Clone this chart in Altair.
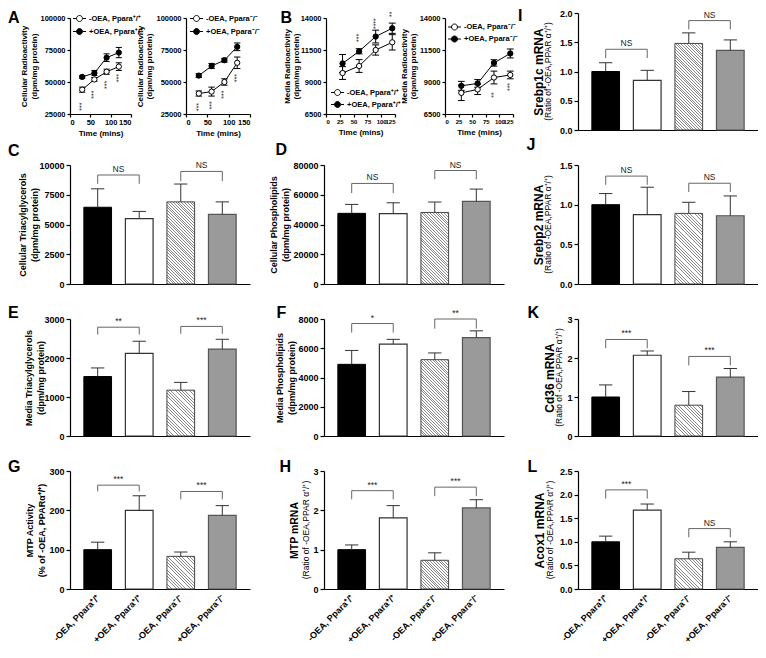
import json
import altair as alt
import pandas as pd

FONT = "Liberation Sans"
WT = "⁺/⁺"
KO = "⁻/⁻"
GROUPS = [f"-OEA, Ppara{WT}", f"+OEA, Ppara{WT}", f"-OEA, Ppara{KO}", f"+OEA, Ppara{KO}"]
POSITIONS = [1, 2, 3, 4]
PAIR_A = [1, 3]
PAIR_B = [2, 4]

# ---------------- time-course data (A, B) ----------------
TIMES = [30, 60, 90, 120]
A_WT_MINUS = [44000, 52000, 58000, 62000]
A_WT_MINUS_SE = [2000, 1500, 2000, 3000]
A_WT_PLUS = [54000, 57000, 69000, 73000]
A_WT_PLUS_SE = [1000, 2000, 3000, 4000]
A_WT_STAR_T = [30, 60, 90, 120]
A_WT_STAR_Y = [30700, 40200, 47800, 53100]
A_WT_STAR_TXT = ["***", "***", "***", "***"]

A_KO_MINUS = [41000, 42500, 50000, 65000]
A_KO_MINUS_SE = [2000, 3500, 2500, 4500]
A_KO_PLUS = [55000, 62500, 67000, 77500]
A_KO_PLUS_SE = [1500, 2000, 1500, 3000]
A_KO_STAR_T = [30, 60, 90, 120]
A_KO_STAR_Y = [30300, 31800, 40200, 53100]
A_KO_STAR_TXT = ["***", "***", "***", "***"]

B_WT_MINUS = [9700, 10250, 11500, 12100]
B_WT_MINUS_SE = [500, 500, 400, 600]
B_WT_PLUS = [10450, 11400, 12550, 13200]
B_WT_PLUS_SE = [700, 200, 500, 400]
B_WT_STAR_T = [60, 90, 120]
B_WT_STAR_Y = [12450, 13560, 14290]
B_WT_STAR_TXT = ["***", "****", "**"]

B_KO_MINUS = [8150, 8420, 9350, 9550]
B_KO_MINUS_SE = [600, 400, 500, 300]
B_KO_PLUS = [8700, 8890, 10490, 11230]
B_KO_PLUS_SE = [350, 300, 250, 350]
B_KO_STAR_T = [90, 120]
B_KO_STAR_Y = [7990, 8610]
B_KO_STAR_TXT = ["**", "***"]

# ---------------- bar data ----------------
I_MEAN = [1.00, 0.85, 1.48, 1.36]
I_SE = [0.15, 0.17, 0.18, 0.18]
I_BR_Y = [1.38, 1.87]
I_BR_LOW = [1.23, 1.72]
I_BR_TXT = ["NS", "NS"]

C_MEAN = [6450, 5500, 6900, 5850]
C_SE = [1550, 600, 1500, 1050]
C_BR_Y = [9160, 9460]
C_BR_LOW = [8420, 8640]
C_BR_TXT = ["NS", "NS"]

D_MEAN = [47500, 47300, 48100, 55500]
D_SE = [6000, 7300, 7000, 8300]
D_BR_Y = [67600, 76300]
D_BR_LOW = [61100, 70400]
D_BR_TXT = ["NS", "NS"]

J_MEAN = [1.00, 0.875, 0.89, 0.86]
J_SE = [0.14, 0.345, 0.14, 0.25]
J_BR_Y = [1.36, 1.27]
J_BR_LOW = [1.25, 1.16]
J_BR_TXT = ["NS", "NS"]

E_MEAN = [1525, 2120, 1175, 2230]
E_SE = [220, 310, 200, 250]
E_BR_Y = [2790, 2810]
E_BR_LOW = [2600, 2620]
E_BR_TXT = ["**", "***"]

F_MEAN = [4900, 6280, 5220, 6730]
F_SE = [950, 330, 460, 460]
F_BR_Y = [7690, 8000]
F_BR_LOW = [7070, 7340]
F_BR_TXT = ["*", "**"]

K_MEAN = [1.00, 2.07, 0.79, 1.51]
K_SE = [0.31, 0.11, 0.35, 0.22]
K_BR_Y = [2.475, 2.04]
K_BR_LOW = [2.25, 1.81]
K_BR_TXT = ["***", "***"]

G_MEAN = [100, 200, 83, 187]
G_SE = [19, 37, 11, 25]
G_BR_Y = [264, 248]
G_BR_LOW = [248, 228]
G_BR_TXT = ["***", "***"]

H_MEAN = [1.00, 1.81, 0.73, 2.06]
H_SE = [0.12, 0.31, 0.19, 0.21]
H_BR_Y = [2.50, 2.59]
H_BR_LOW = [2.28, 2.36]
H_BR_TXT = ["***", "***"]

L_MEAN = [1.00, 1.67, 0.64, 0.88]
L_SE = [0.12, 0.13, 0.14, 0.12]
L_BR_Y = [2.10, 1.28]
L_BR_LOW = [1.915, 1.095]
L_BR_TXT = ["***", "NS"]

SUBTITLE = "(Ratio of -OEA,PPAR α⁺/⁺)"

# ---------------- styling helpers ----------------
BAR_HALF = 1 / 3
CAP_HALF = 0.16
X_DOMAIN = [1 / 3, 14 / 3]
ONE = pd.DataFrame({"k": [0]})
SYM_PATH = "M-1.3,0H-0.6M0.6,0H1.3M0.6,0A0.6,0.6,0,1,1,-0.6,0A0.6,0.6,0,1,1,0.6,0Z"
BAR_LH = 12
TIME_LH = 9.5


def hatch_fill(wpx, hpx, period=2.8, line=0.9, color="#8a8a8a"):
    L = wpx + hpx
    k = L / (wpx ** 2 + hpx ** 2)
    stops = []
    n = int(L // period) + 1
    for i in range(n):
        a = i * period / L
        b = (i * period + period - line) / L
        c = (i + 1) * period / L
        for o, col in ((a, "#ffffff"), (b, "#ffffff"), (b, color), (c, color)):
            stops.append({"offset": round(min(o, 1.0), 5), "color": col})
    return {"gradient": "linear", "x1": 1, "y1": 0,
            "x2": round(1 - wpx * k, 5), "y2": round(hpx * k, 5), "stops": stops}


def letter_layer(txt, dx, dy):
    return alt.Chart(ONE).mark_text(
        text=txt, align="left", baseline="top", font=FONT, fontSize=16,
        fontWeight="bold", color="black"
    ).encode(x=alt.value(dx), y=alt.value(dy))


def bar_panel(mean, se, br_y, br_low, br_txt, ymax, yticks, fmt, title, title_x,
              w, h, letter, ldx, ldy, title_size=9, sub=None, sub_x=None, bottom=False):
    df = pd.DataFrame({"pos": POSITIONS, "mean": mean, "se": se, "grp": GROUPS})
    df["x0"] = df["pos"] - BAR_HALF
    df["x1"] = df["pos"] + BAR_HALF
    df["top"] = df["mean"] + df["se"]
    df["c0"] = df["pos"] - CAP_HALF
    df["c1"] = df["pos"] + CAP_HALF
    df["base"] = 0
    bdf = pd.DataFrame({"xa": PAIR_A, "xb": PAIR_B, "y": br_y, "yl": br_low, "txt": br_txt})
    bdf["xm"] = (bdf["xa"] + bdf["xb"]) / 2

    # multi-line titles: first line sits at titleX, so shift to centre the block
    if isinstance(title, list):
        title_x = title_x - BAR_LH * (len(title) - 1) / 2

    xs = alt.Scale(domain=X_DOMAIN, nice=False, zero=False)
    ys = alt.Scale(domain=[0, ymax], nice=False)
    if bottom:
        expr = json.dumps(GROUPS, ensure_ascii=False) + "[datum.value - 1]"
        xax = alt.Axis(values=POSITIONS, labelExpr=expr, labelAngle=315, labelAlign="right",
                       labelBaseline="middle", ticks=False, tickSize=0, labelPadding=7,
                       labelOverlap=False, labelBound=False, title=None, labelFontSize=9,
                       labelFontWeight="bold")
    else:
        xax = alt.Axis(values=POSITIONS, labels=False, ticks=False, title=None)
    yax = alt.Axis(values=yticks, format=fmt, title=title, titleX=title_x, titleY=h / 2,
                   titleAngle=270, titleAlign="center", titleBaseline="middle",
                   titleFontSize=title_size, titleLineHeight=BAR_LH, tickSize=4,
                   labelPadding=2, labelFontSize=9, labelFontWeight="bold",
                   labelOverlap=False)

    def X(f):
        return alt.X(f, type="quantitative", scale=xs, axis=xax)

    def Y(f):
        return alt.Y(f, type="quantitative", scale=ys, axis=yax)

    bar_w = w * (2 * BAR_HALF) / (X_DOMAIN[1] - X_DOMAIN[0])
    bar_h = mean[2] / ymax * h
    styles = [
        dict(fill="#000000", stroke="#000000", strokeWidth=1),
        dict(fill="#ffffff", stroke="#333333", strokeWidth=1.2),
        dict(fill=hatch_fill(bar_w, bar_h), stroke="#444444", strokeWidth=1),
        dict(fill="#9a9a9a", stroke="#555555", strokeWidth=1.2),
    ]
    base = alt.Chart(df)
    layers = []
    for i, st in enumerate(styles):
        layers.append(base.transform_filter(alt.datum.pos == i + 1).mark_bar(**st).encode(
            x=X("x0"), x2="x1", y=Y("mean"), y2="base"))
    layers.append(base.mark_rule(color="#333333", strokeWidth=1).encode(
        x=X("pos"), y=Y("mean"), y2="top"))
    layers.append(base.mark_rule(color="#333333", strokeWidth=1).encode(
        x=X("c0"), x2="c1", y=Y("top")))
    bb = alt.Chart(bdf)
    layers.append(bb.mark_rule(color="#666666", strokeWidth=1).encode(x=X("xa"), x2="xb", y=Y("y")))
    layers.append(bb.mark_rule(color="#666666", strokeWidth=1).encode(x=X("xa"), y=Y("yl"), y2="y"))
    layers.append(bb.mark_rule(color="#666666", strokeWidth=1).encode(x=X("xb"), y=Y("yl"), y2="y"))
    layers.append(bb.mark_text(baseline="bottom", dy=-1, fontSize=8.5, font=FONT,
                               color="#222222").encode(x=X("xm"), y=Y("y"), text="txt:N"))
    layers.append(letter_layer(letter, ldx, ldy))
    if sub:
        layers.append(alt.Chart(ONE).mark_text(
            text=sub, angle=270, align="center", baseline="middle", font=FONT,
            fontSize=8.5, color="black").encode(x=alt.value(sub_x), y=alt.value(h / 2)))
    return alt.layer(*layers).properties(width=w, height=h)


def time_layer(minus, minus_se, plus, plus_se, labels, st_t, st_y, st_txt, xmax, xticks,
               ydom, yticks, title, title_x, x0, w, off, h, lx, ly, rowpad, xlab_size):
    cap = xmax * 0.05
    rows = []
    for lab, m, e in ((labels[0], minus, minus_se), (labels[1], plus, plus_se)):
        for t, v, ee in zip(TIMES, m, e):
            rows.append(dict(t=t, v=v, lo=v - ee, hi=v + ee, grp=lab, c0=t - cap, c1=t + cap))
    df = pd.DataFrame(rows)
    sdf = pd.DataFrame({"t": st_t, "y": st_y, "txt": st_txt})
    title_x = title_x - TIME_LH * (len(title) - 1) / 2
    xs = alt.Scale(domain=[0, xmax], nice=False, range=[x0, x0 + w])
    ys = alt.Scale(domain=ydom, nice=False, range=[off + h, off])
    xax = alt.Axis(orient="bottom", values=xticks, title="Time (mins)", titleFontSize=8,
                   titlePadding=4, tickSize=3, labelPadding=1, labelFontSize=xlab_size,
                   labelFontWeight="bold", labelOverlap=False)
    yax = alt.Axis(orient="left", offset=-x0, values=yticks, format="d", title=title,
                   titleX=title_x, titleY=off + h / 2, titleAngle=270, titleAlign="center",
                   titleBaseline="middle", titleFontSize=8, titleLineHeight=TIME_LH,
                   tickSize=3, labelPadding=2, labelFontSize=7.5, labelFontWeight="bold",
                   labelOverlap=False)

    def X(f):
        return alt.X(f, type="quantitative", scale=xs, axis=xax)

    def Y(f):
        return alt.Y(f, type="quantitative", scale=ys, axis=yax)

    base = alt.Chart(df)
    leg = alt.Legend(orient="none", legendX=x0 + lx, legendY=off + ly, title=None,
                     symbolType=SYM_PATH, symbolSize=100, symbolStrokeColor="black",
                     symbolStrokeWidth=1, labelFont=FONT, labelFontSize=7.5,
                     labelFontWeight="bold", labelColor="black", labelOffset=4,
                     rowPadding=rowpad, padding=0)
    layers = [
        base.mark_line(color="black", strokeWidth=1).encode(x=X("t"), y=Y("v"), detail="grp:N"),
        base.mark_rule(color="black", strokeWidth=1).encode(x=X("t"), y=Y("lo"), y2="hi"),
        base.mark_rule(color="black", strokeWidth=1).encode(x=X("c0"), x2="c1", y=Y("hi")),
        base.mark_rule(color="black", strokeWidth=1).encode(x=X("c0"), x2="c1", y=Y("lo")),
        base.mark_point(shape="circle", size=28, filled=True, stroke="black", strokeWidth=1,
                        opacity=1).encode(
            x=X("t"), y=Y("v"),
            fill=alt.Fill("grp:N", scale=alt.Scale(domain=labels, range=["white", "black"]),
                          legend=leg)),
        alt.Chart(sdf).mark_text(angle=270, align="center", baseline="middle", fontSize=7,
                                 font=FONT, color="#222222").encode(
            x=X("t"), y=Y("y"), text="txt:N"),
    ]
    return alt.layer(*layers)


TITLE_CR = ["Cellular Radioactivity", "(dpm/mg protein)"]
TITLE_MR = ["Media Radioactivity", "(dpm/mg protein)"]
TOP_W = 189
TOP_H = 101

A1 = time_layer(A_WT_MINUS, A_WT_MINUS_SE, A_WT_PLUS, A_WT_PLUS_SE, GROUPS[0:2],
                A_WT_STAR_T, A_WT_STAR_Y, A_WT_STAR_TXT, 150, [0, 50, 100, 150],
                [25000, 100000], [25000, 50000, 75000, 100000], TITLE_CR, -40.5,
                0, 61, 5, 96, 4, -5, 2, 7.5)
A2 = time_layer(A_KO_MINUS, A_KO_MINUS_SE, A_KO_PLUS, A_KO_PLUS_SE, GROUPS[2:4],
                A_KO_STAR_T, A_KO_STAR_Y, A_KO_STAR_TXT, 150, [0, 50, 100, 150],
                [25000, 100000], [25000, 50000, 75000, 100000], TITLE_CR, -41,
                116, 64, 5, 96, 5, -5, 2, 7.5)
A = alt.layer(A1, A2, letter_layer("A", -62, -2.6)).resolve_scale(
    x="independent", y="independent", fill="independent").properties(width=TOP_W, height=TOP_H)

B1 = time_layer(B_WT_MINUS, B_WT_MINUS_SE, B_WT_PLUS, B_WT_PLUS_SE, GROUPS[0:2],
                B_WT_STAR_T, B_WT_STAR_Y, B_WT_STAR_TXT, 125, [0, 25, 50, 75, 100, 125],
                [6500, 14000], [6500, 9000, 11500, 14000], TITLE_MR, -34,
                2, 69, 5, 96, 6, 69, 1, 6)
B2 = time_layer(B_KO_MINUS, B_KO_MINUS_SE, B_KO_PLUS, B_KO_PLUS_SE, GROUPS[2:4],
                B_KO_STAR_T, B_KO_STAR_Y, B_KO_STAR_TXT, 125, [0, 25, 50, 75, 100, 125],
                [6500, 14000], [6500, 9000, 11500, 14000], TITLE_MR, -36,
                121, 68, 5, 96, 4, 3.5, 1, 6)
B = alt.layer(B1, B2, letter_layer("B", -43.6, -2.6)).resolve_scale(
    x="independent", y="independent", fill="independent").properties(width=TOP_W, height=TOP_H)

PW = 180
I = bar_panel(I_MEAN, I_SE, I_BR_Y, I_BR_LOW, I_BR_TXT, 2.0, [0, 0.5, 1.0, 1.5, 2.0], ".1f",
              "Srebp1c mRNA", -40, PW, 117, "I", -60, -4.6, title_size=12,
              sub=SUBTITLE, sub_x=-30)
C = bar_panel(C_MEAN, C_SE, C_BR_Y, C_BR_LOW, C_BR_TXT, 10000, [0, 2500, 5000, 7500, 10000], "d",
              ["Cellular Triacylglycerols", "(dpm/mg protein)"], -42, PW, 119, "C", -62, -22)
D = bar_panel(D_MEAN, D_SE, D_BR_Y, D_BR_LOW, D_BR_TXT, 80000, [0, 20000, 40000, 60000, 80000], "d",
              ["Cellular Phospholipids", "(dpm/mg protein)"], -45, PW, 119, "D", -48.5, -23)
J = bar_panel(J_MEAN, J_SE, J_BR_Y, J_BR_LOW, J_BR_TXT, 1.5, [0, 0.5, 1.0, 1.5], ".1f",
              "Srebp2 mRNA", -40, PW, 119, "J", -51.6, -27.7, title_size=12,
              sub=SUBTITLE, sub_x=-30)
E = bar_panel(E_MEAN, E_SE, E_BR_Y, E_BR_LOW, E_BR_TXT, 3000, [0, 1000, 2000, 3000], "d",
              ["Media Triacylglycerols", "(dpm/mg protein)"], -36, PW, 117, "E", -62, -14)
F = bar_panel(F_MEAN, F_SE, F_BR_Y, F_BR_LOW, F_BR_TXT, 8000, [0, 2000, 4000, 6000, 8000], "d",
              ["Media Phospholipids", "(dpm/mg protein)"], -39, PW, 117, "F", -47.5, -14)
K = bar_panel(K_MEAN, K_SE, K_BR_Y, K_BR_LOW, K_BR_TXT, 3, [0, 1, 2, 3], "d",
              "Cd36 mRNA", -29, PW, 117, "K", -50.6, -14, title_size=12,
              sub=SUBTITLE, sub_x=-19)
G = bar_panel(G_MEAN, G_SE, G_BR_Y, G_BR_LOW, G_BR_TXT, 300, [0, 100, 200, 300], "d",
              ["MTP Activity", f"(% of -OEA, PPARα{WT})"], -35, PW, 118, "G", -62, -11.7,
              bottom=True)
H = bar_panel(H_MEAN, H_SE, H_BR_Y, H_BR_LOW, H_BR_TXT, 3, [0, 1, 2, 3], "d",
              "MTP mRNA", -30, PW, 118, "H", -44.5, -11.7, title_size=10.5,
              sub=SUBTITLE, sub_x=-18, bottom=True)
L = bar_panel(L_MEAN, L_SE, L_BR_Y, L_BR_LOW, L_BR_TXT, 2.5, [0, 0.5, 1.0, 1.5, 2.0, 2.5], ".1f",
              "Acox1 mRNA", -39, PW, 118, "L", -50.6, -11.7, title_size=12,
              sub=SUBTITLE, sub_x=-28, bottom=True)

chart = alt.concat(
    A, B, I, C, D, J, E, F, K, G, H, L,
    columns=3, spacing={"row": 35, "column": 65}, bounds="flush", align="each"
).resolve_scale(fill="independent").resolve_legend(fill="independent").properties(
    padding=0, background="white"
).configure_view(stroke=None).configure_axis(
    grid=False, domainColor="black", tickColor="black", labelColor="black",
    titleColor="black", labelFont=FONT, titleFont=FONT, titleFontWeight="bold",
    domainWidth=1.2, tickWidth=1.2
)

chart.save("out.html", embed_options={"renderer": "svg", "actions": False})
